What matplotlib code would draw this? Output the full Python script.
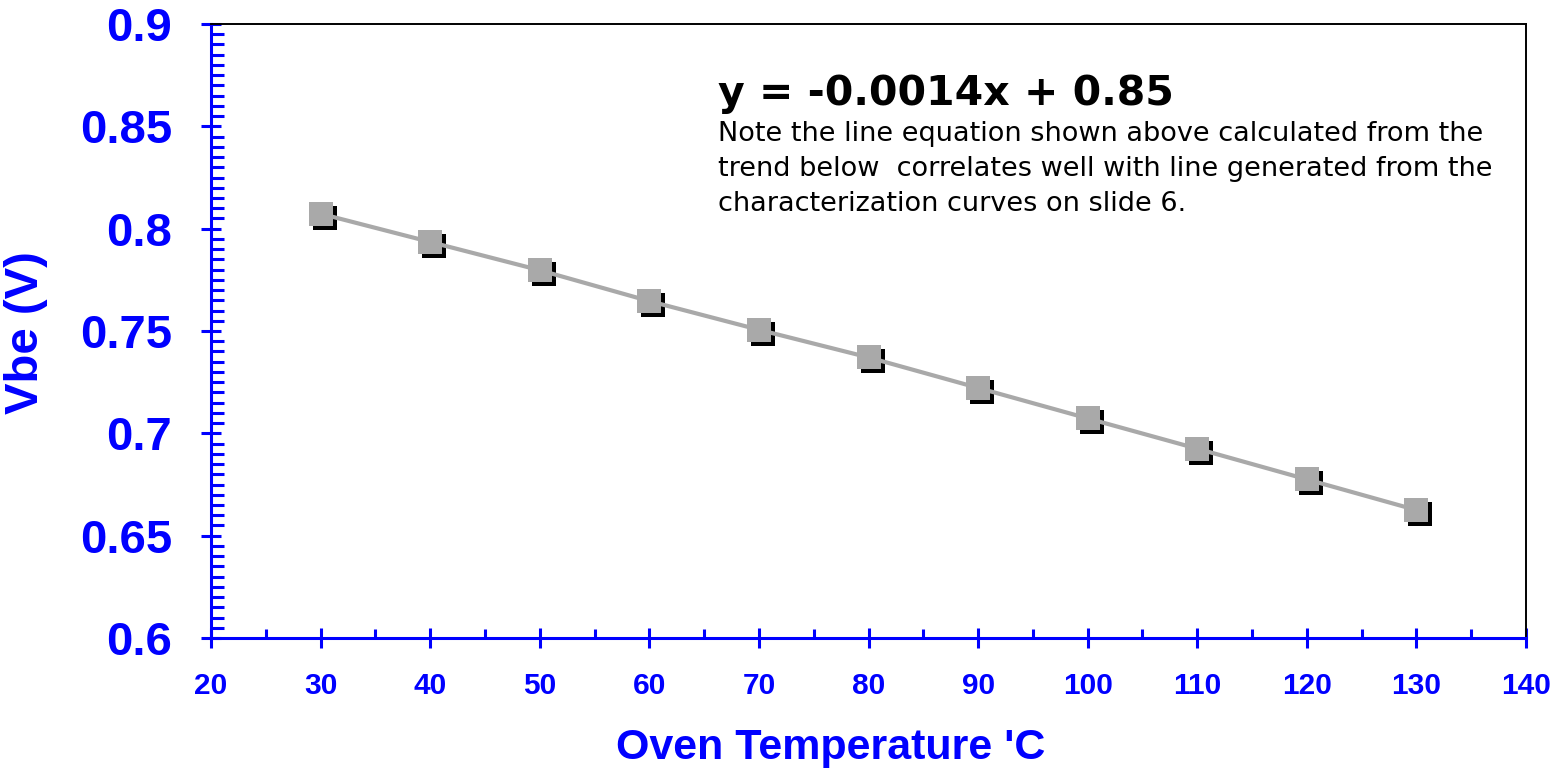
import matplotlib
matplotlib.use("Agg")
import matplotlib.pyplot as plt
from matplotlib.ticker import MultipleLocator, FormatStrFormatter
from matplotlib.transforms import offset_copy

# data
temps = [30, 40, 50, 60, 70, 80, 90, 100, 110, 120, 130]
vbe = [0.8073, 0.7935, 0.7797, 0.7646, 0.7506, 0.7371, 0.7222, 0.7073, 0.6925, 0.6775, 0.6625]

equation = "y = -0.0014x + 0.85"
note_lines = ["Note the line equation shown above calculated from the",
              "trend below  correlates well with line generated from the",
              "characterization curves on slide 6."]

BLUE = "#0000FF"
GRAY = "#A9A9A9"
BOLD = ["Liberation Sans", "DejaVu Sans"]

W, H = 1556, 772
fig = plt.figure(figsize=(W / 100, H / 100), dpi=100)
ax = fig.add_axes([211 / W, 1 - 638 / H, 1315 / W, 614 / H])

# line, marker shadows, markers
shadow = offset_copy(ax.transData, fig=fig, x=4, y=-4, units="dots")
ax.plot(temps, vbe, ls="none", marker="s", ms=17.3, mfc="black", mec="black",
        mew=0, transform=shadow, zorder=2, clip_on=False)
ax.plot(temps, vbe, color=GRAY, lw=3, zorder=3)
ax.plot(temps, vbe, ls="none", marker="s", ms=17.3, mfc=GRAY, mec=GRAY, mew=0,
        zorder=4, clip_on=False)

ax.set_xlim(20, 140)
ax.set_ylim(0.6, 0.9)

ax.xaxis.set_major_locator(MultipleLocator(10))
ax.xaxis.set_minor_locator(MultipleLocator(5))
ax.yaxis.set_major_locator(MultipleLocator(0.05))
ax.yaxis.set_minor_locator(MultipleLocator(0.005))
ax.yaxis.set_major_formatter(FormatStrFormatter("%g"))

# spines
for s in ["left", "bottom"]:
    ax.spines[s].set_color(BLUE)
    ax.spines[s].set_linewidth(2.2)
for s in ["top", "right"]:
    ax.spines[s].set_color("black")
    ax.spines[s].set_linewidth(1.4)

# ticks
ax.tick_params(axis="y", which="major", direction="inout", length=14, width=2.2,
               color=BLUE, pad=21, labelcolor=BLUE, labelsize=34)
ax.tick_params(axis="y", which="minor", direction="in", length=9.4, width=2.2,
               color=BLUE)
ax.tick_params(axis="x", which="major", direction="inout", length=14.4, width=2.2,
               color=BLUE, pad=17.5, labelcolor=BLUE, labelsize=21.5)
ax.tick_params(axis="x", which="minor", direction="in", length=6.5, width=2.2,
               color=BLUE)
for lab in ax.get_xticklabels() + ax.get_yticklabels():
    lab.set_fontfamily(BOLD)
    lab.set_fontweight("bold")

# axis titles
fig.text(831 / W, 1 - 759 / H, "Oven Temperature 'C", color=BLUE, fontsize=31,
         fontweight="bold", family=BOLD, ha="center", va="baseline")
fig.text(25.5 / W, 1 - 333 / H, "Vbe (V)", color=BLUE, fontsize=34,
         fontweight="bold", family=BOLD, rotation=90, ha="center", va="center")

# trend equation and note
fig.text(718 / W, 1 - 105 / H, equation, fontsize=29.5, fontweight="bold",
         family="DejaVu Sans", ha="left", va="baseline")
for i, line in enumerate(note_lines):
    fig.text(718 / W, 1 - (141 + 35 * i) / H, line, fontsize=19.5,
             family="DejaVu Sans", ha="left", va="baseline")

fig.savefig("out.png", dpi=100)
